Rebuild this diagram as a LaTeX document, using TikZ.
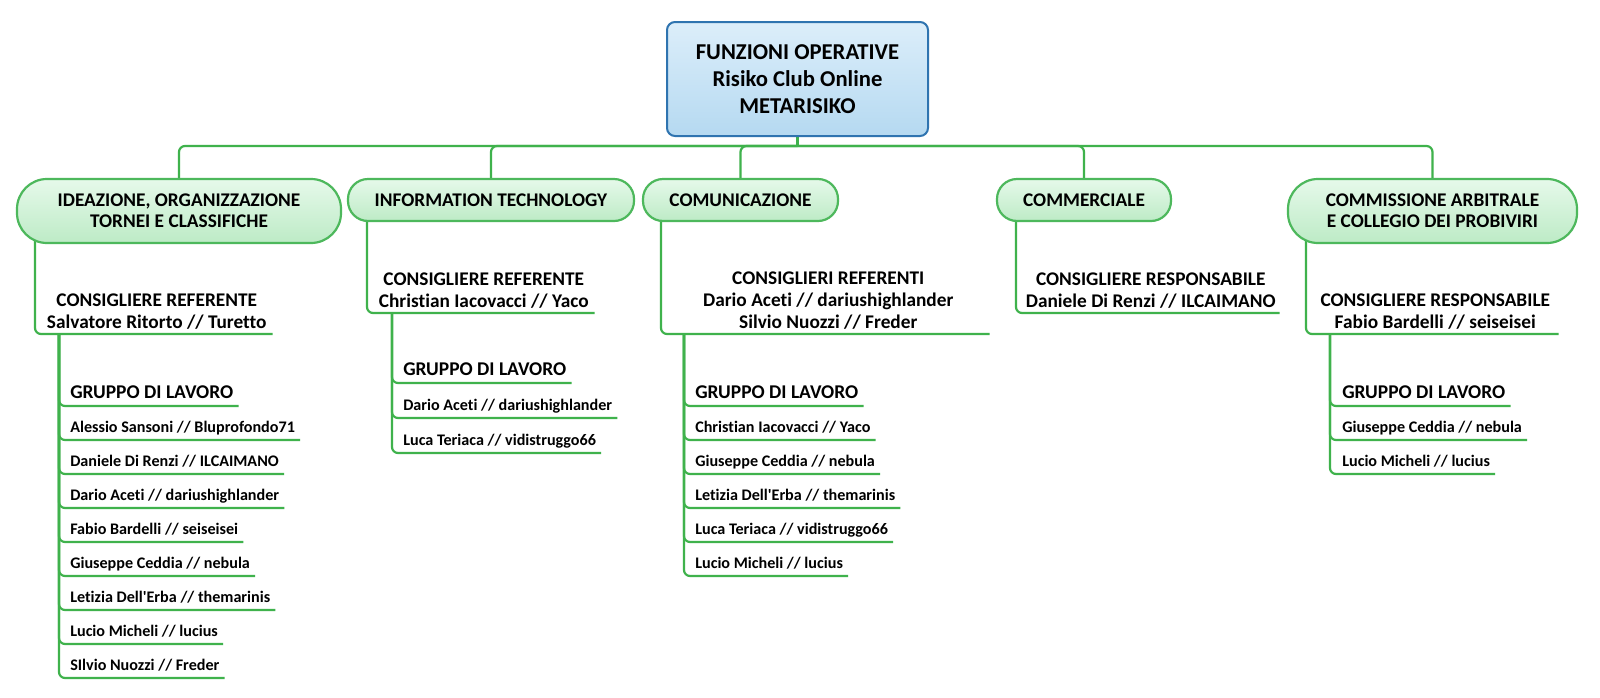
\documentclass[tikz,border=0pt]{standalone}
\usepackage{fontspec}
\setmainfont{Carlito}
\newfontfamily\carl{Carlito}[Ligatures=NoCommon]
\usetikzlibrary{backgrounds,calc}
\newdimen\pxu \pxu=0.75pt
\newcommand{\dstrut}{\rule[-3pt]{0pt}{3pt}}
\definecolor{lineg}{HTML}{3FB24C}
\definecolor{pillborder}{HTML}{4DB85C}
\definecolor{pilltop}{HTML}{E6F9EA}
\definecolor{pillbot}{HTML}{BDEBC6}
\definecolor{roottop}{HTML}{DCEEFA}
\definecolor{rootbot}{HTML}{B5D9F1}
\definecolor{rootborder}{HTML}{2F74B0}
\begin{document}
\begin{tikzpicture}[x=0.75pt,y=-0.75pt,
  conn/.style={draw=lineg, line width=2.2\pxu, rounded corners=6\pxu},
  rootbox/.style={draw=rootborder, line width=2\pxu, rounded corners=8\pxu, top color=roottop, bottom color=rootbot, align=center, inner sep=0pt, font=\carl\fontsize{17}{20.25}\selectfont\bfseries},
  pill/.style={draw=pillborder, line width=2.2\pxu, top color=pilltop, bottom color=pillbot, align=center, inner sep=0pt, font=\carl\fontsize{14.5}{15.75}\selectfont\bfseries},
  pillone/.style={pill, minimum height=42\pxu, rounded corners=20\pxu},
  pilltwo/.style={pill, minimum height=64\pxu, rounded corners=30\pxu},
  lead/.style={anchor=south west, align=center, inner xsep=0pt, inner ysep=0.75pt, font=\carl\fontsize{14.5}{16.5}\selectfont\bfseries},
  grp/.style={anchor=south west, inner xsep=0pt, inner ysep=2.25pt, font=\carl\fontsize{14.6}{16}\selectfont\bfseries},
  item/.style={anchor=south west, inner xsep=0pt, inner ysep=2.25pt, font=\carl\fontsize{12.1}{14}\selectfont\bfseries},
]
\useasboundingbox (0,0) rectangle (1600,697);

% root and first level
\node[rootbox, minimum width=261\pxu, minimum height=114\pxu] (root) at (797.5,79) {FUNZIONI OPERATIVE\\Risiko Club Online\\METARISIKO};
\node[pilltwo, minimum width=324\pxu] (L1a) at (179,211) {IDEAZIONE, ORGANIZZAZIONE\\TORNEI E CLASSIFICHE};
\node[pillone, minimum width=286\pxu] (L1b) at (491,200) {INFORMATION TECHNOLOGY};
\node[pillone, minimum width=195\pxu] (L1c) at (740.5,200) {COMUNICAZIONE};
\node[pillone, minimum width=174\pxu] (L1d) at (1084,200) {COMMERCIALE};
\node[pilltwo, minimum width=289\pxu] (L1e) at (1432.5,211) {COMMISSIONE ARBITRALE\\E COLLEGIO DEI PROBIVIRI};

% second level (referenti)
\node[lead, minimum width=231\pxu] (c1) at (41,334) {CONSIGLIERE REFERENTE\\Salvatore Ritorto // Turetto\dstrut};
\node[lead, minimum width=221\pxu] (c2) at (373,313) {CONSIGLIERE REFERENTE\\Christian Iacovacci // Yaco\dstrut};
\node[lead, minimum width=322\pxu] (c3) at (667,334) {CONSIGLIERI REFERENTI\\Dario Aceti // dariushighlander\\Silvio Nuozzi // Freder\dstrut};
\node[lead, minimum width=257\pxu] (c4) at (1022,313) {CONSIGLIERE RESPONSABILE\\Daniele Di Renzi // ILCAIMANO\dstrut};
\node[lead, minimum width=246\pxu] (c5) at (1312,334) {CONSIGLIERE RESPONSABILE\\Fabio Bardelli // seiseisei\dstrut};

\coordinate (bus) at (797.5,146);
\coordinate (s1) at (35,230);
\coordinate (s2) at (367,212);
\coordinate (s3) at (661,212);
\coordinate (s4) at (1016,212);
\coordinate (s5) at (1306,230);

\begin{pgfonlayer}{background}
\fill[white] (0,0) rectangle (1600,697);
\draw[conn] (root.south) -- (bus);
\foreach \n in {L1a,L1b,L1c,L1d,L1e} \draw[conn] (bus) -| (\n.north);
\foreach \k in {1,...,5} \draw[conn] (s\k) |- (c\k.south east);
\end{pgfonlayer}

% working groups
\coordinate (g1) at (59,334);
\coordinate (g2) at (392,313);
\coordinate (g3) at (684,334);
\coordinate (g5) at (1330,334);

\node[grp] (h1) at (70,406) {GRUPPO DI LAVORO\dstrut};
\draw[conn] (g1) |- ($(h1.south east)+(5,0)$);
\foreach \t [count=\k] in {Alessio Sansoni // Bluprofondo71, Daniele Di Renzi // ILCAIMANO, Dario Aceti // dariushighlander, Fabio Bardelli // seiseisei, Giuseppe Ceddia // nebula, Letizia Dell'Erba // themarinis, Lucio Micheli // lucius, SIlvio Nuozzi // Freder}{
  \node[item] (m1\k) at (70,406+34*\k) {\t\dstrut};
  \draw[conn] (g1) |- ($(m1\k.south east)+(5,0)$);
}

\node[grp] (h2) at (403,383) {GRUPPO DI LAVORO\dstrut};
\draw[conn] (g2) |- ($(h2.south east)+(5,0)$);
\foreach \t [count=\k] in {Dario Aceti // dariushighlander, Luca Teriaca // vidistruggo66}{
  \node[item] (m2\k) at (403,383+35*\k) {\t\dstrut};
  \draw[conn] (g2) |- ($(m2\k.south east)+(5,0)$);
}

\node[grp] (h3) at (695,406) {GRUPPO DI LAVORO\dstrut};
\draw[conn] (g3) |- ($(h3.south east)+(5,0)$);
\foreach \t [count=\k] in {Christian Iacovacci // Yaco, Giuseppe Ceddia // nebula, Letizia Dell'Erba // themarinis, Luca Teriaca // vidistruggo66, Lucio Micheli // lucius}{
  \node[item] (m3\k) at (695,406+34*\k) {\t\dstrut};
  \draw[conn] (g3) |- ($(m3\k.south east)+(5,0)$);
}

\node[grp] (h5) at (1342,406) {GRUPPO DI LAVORO\dstrut};
\draw[conn] (g5) |- ($(h5.south east)+(5,0)$);
\foreach \t [count=\k] in {Giuseppe Ceddia // nebula, Lucio Micheli // lucius}{
  \node[item] (m5\k) at (1342,406+34*\k) {\t\dstrut};
  \draw[conn] (g5) |- ($(m5\k.south east)+(5,0)$);
}
\end{tikzpicture}
\end{document}
